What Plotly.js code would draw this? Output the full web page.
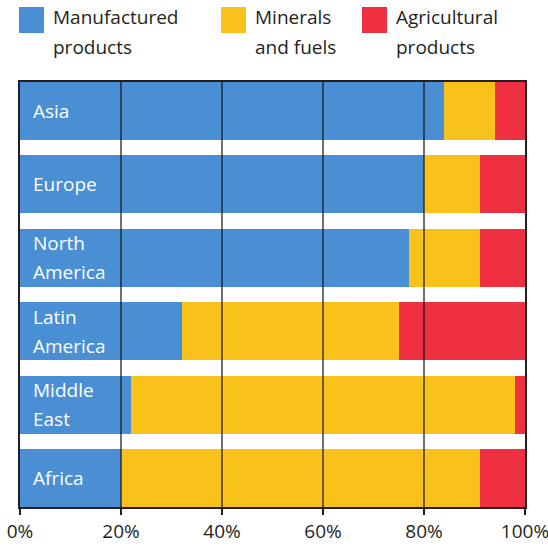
<!DOCTYPE html>
<html>
<head>
<meta charset="utf-8">
<script src="https://cdn.plot.ly/plotly-3.0.1.min.js"></script>
<style>html,body{margin:0;padding:0;background:#fff;}#chart{width:548px;height:551px;}</style>
</head>
<body>
<div id="chart"></div>
<script>
const regions = ["Asia", "Europe", "North America", "Latin America", "Middle East", "Africa"];
const regionLabelLines = [["Asia"], ["Europe"], ["North", "America"], ["Latin", "America"], ["Middle", "East"], ["Africa"]];
const manufactured = [84, 80, 77, 32, 22, 20];
const minerals = [10, 11, 14, 43, 76, 71];
const agricultural = [6, 9, 9, 25, 2, 9];
const seriesNames = [["Manufactured", "products"], ["Minerals", "and fuels"], ["Agricultural", "products"]];
const xTicks = [0, 20, 40, 60, 80, 100];

const colors = ["#4a8fd4", "#f9c21b", "#ee3040"];
const font = "Open Sans, Noto Sans, sans-serif";
const bargap = 0.21;
const w = 1 - bargap;

const traces = [manufactured, minerals, agricultural].map((vals, i) => ({
  type: "bar",
  orientation: "h",
  y: regions,
  x: vals,
  name: seriesNames[i].join(" "),
  marker: {color: colors[i], line: {width: 0}},
  hoverinfo: "x+y+name",
  showlegend: false
}));

const annotations = [];
regions.forEach((r, i) => {
  const lines = regionLabelLines[i];
  const n = lines.length;
  lines.forEach((t, j) => {
    annotations.push({
      x: 0, y: r, xref: "x", yref: "y",
      text: t, showarrow: false,
      xanchor: "left", yanchor: "middle",
      xshift: 11,
      yshift: (n - 1) * 14.5 - j * 29,
      font: {family: font, size: 19, color: "#ffffff"}
    });
  });
});

// custom legend
const legendX = [19, 221, 362];
const shapes = [];
seriesNames.forEach((lines, i) => {
  shapes.push({
    type: "rect", xref: "paper", yref: "paper", layer: "above",
    x0: (legendX[i] - 20) / 505, x1: (legendX[i] + 25 - 20) / 505,
    y0: (551 - 44 - 7) / 425, y1: (551 - 44 - 33) / 425,
    fillcolor: colors[i], line: {width: 0}
  });
  lines.forEach((t, j) => {
    annotations.push({
      xref: "paper", yref: "paper",
      x: (legendX[i] + 32 - 20) / 505,
      y: (551 - 44 - (17 + j * 30)) / 425,
      text: t, showarrow: false,
      xanchor: "left", yanchor: "middle",
      font: {family: font, size: 19, color: "#231f20"}
    });
  });
});

// vertical gridlines drawn above bars
xTicks.slice(1, -1).forEach(v => {
  shapes.push({
    type: "line", xref: "x", yref: "paper", layer: "above",
    x0: v, x1: v, y0: 0, y1: 1,
    line: {color: "#111111", width: 1.2}
  });
});

const layout = {
  width: 548, height: 551,
  margin: {l: 20, r: 23, t: 82, b: 44, pad: 0},
  paper_bgcolor: "#ffffff", plot_bgcolor: "#ffffff",
  barmode: "stack",
  bargap: bargap,
  showlegend: false,
  font: {family: font, size: 19, color: "#231f20"},
  xaxis: {
    range: [0, 100],
    tickvals: xTicks,
    ticktext: xTicks.map(v => v + "%"),
    ticklabeloverflow: "allow",
    ticks: "outside", ticklen: 6, tickwidth: 1.5, tickcolor: "#231f20",
    showgrid: false, zeroline: false,
    showline: true, mirror: true, linecolor: "#231f20", linewidth: 2,
    tickfont: {family: font, size: 19, color: "#231f20"},
    fixedrange: true
  },
  yaxis: {
    type: "category",
    categoryorder: "array", categoryarray: regions,
    range: [regions.length - 1 + w / 2, -w / 2],
    showticklabels: false, ticks: "",
    showgrid: false, zeroline: false,
    showline: true, mirror: true, linecolor: "#231f20", linewidth: 2,
    fixedrange: true
  },
  annotations: annotations,
  shapes: shapes
};

Plotly.newPlot("chart", traces, layout, {displayModeBar: false, staticPlot: true});
</script>
</body>
</html>
